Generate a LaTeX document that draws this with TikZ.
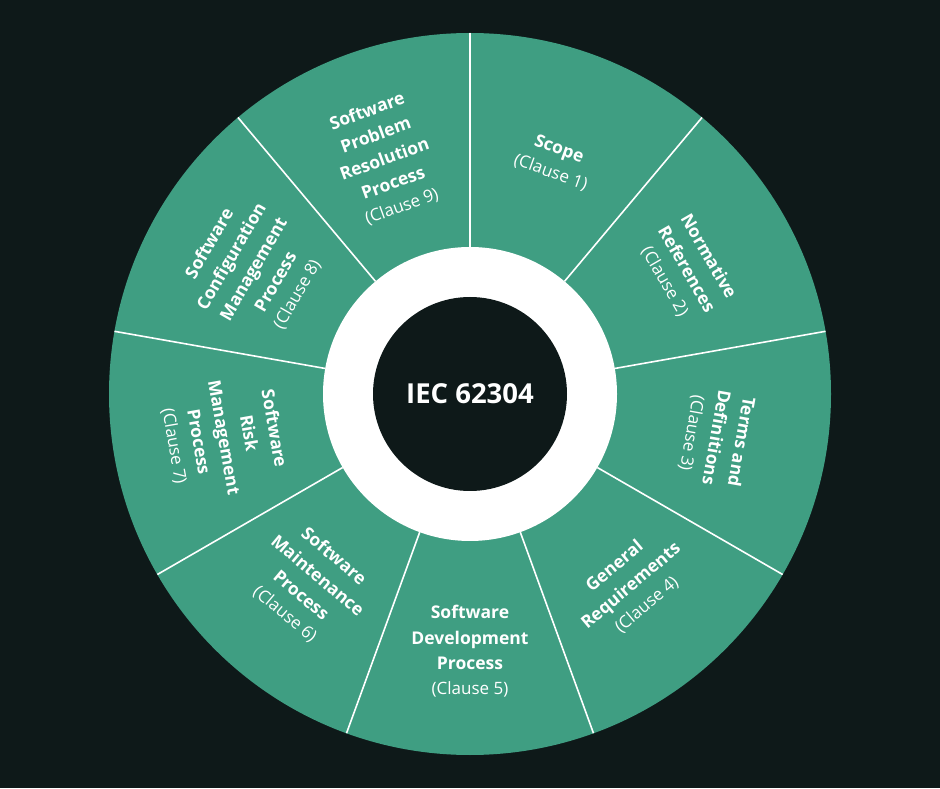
\documentclass[tikz,border=0pt]{standalone}
\usepackage{fontspec}
\setmainfont{Open Sans}
\usetikzlibrary{calc}
\definecolor{bg}{HTML}{0E1919}
\definecolor{grn}{HTML}{3F9E82}
\begin{document}
\begin{tikzpicture}[x=1pt,y=1pt,
  lbl/.style={text=white,align=center,inner sep=1pt,font=\fontsize{17.5}{25.5}\selectfont\bfseries},
  divider/.style={white,line width=1.6pt}]
\fill[bg] (0,0) rectangle (940,788);
\useasboundingbox (0,0) rectangle (940,788);
\coordinate (c) at (470,394);
\fill[grn] (c) circle (361);
\foreach \a in {90,50,10,-30,-70,-110,-150,170,130}
  \draw[divider] (c) ++(\a:147) -- ++(\a:214);
\fill[white] (c) circle (147);
\node[circle,fill=bg,minimum size=194pt,text=white,font=\fontsize{27.5}{30}\selectfont\bfseries] (hub) at (c) {IEC 62304};
\newcommand{\cl}[1]{\\[-1pt]{\mdseries\fontsize{17}{25.5}\selectfont(Clause #1)}}
\node[lbl,rotate=-20] (s1) at ($(c)+(70:248)$) {Scope\cl{1}};
\node[lbl,rotate=-60] (s2) at ($(c)+(30:250)$) {Normative\\References\cl{2}};
\node[lbl,rotate=-100] (s3) at ($(c)+(-10:250)$) {Terms and\\Definitions\cl{3}};
\node[lbl,rotate=40] (s4) at ($(c)+(-50:250)$) {General\\Requirements\cl{4}};
\node[lbl] (s5) at ($(c)+(-90:257)$) {Software\\Development\\Process\cl{5}};
\node[lbl,rotate=-40] (s6) at ($(c)+(-130:250)$) {Software\\Maintenance\\Process\cl{6}};
\node[lbl,rotate=-80] (s7) at ($(c)+(190:250)$) {Software\\Risk\\Management\\Process\cl{7}};
\node[lbl,rotate=60] (s8) at ($(c)+(150:250)$) {Software\\Configuration\\Management\\Process\cl{8}};
\node[lbl,rotate=20] (s9) at ($(c)+(110:250)$) {Software\\Problem\\Resolution\\Process\cl{9}};
\end{tikzpicture}
\end{document}
